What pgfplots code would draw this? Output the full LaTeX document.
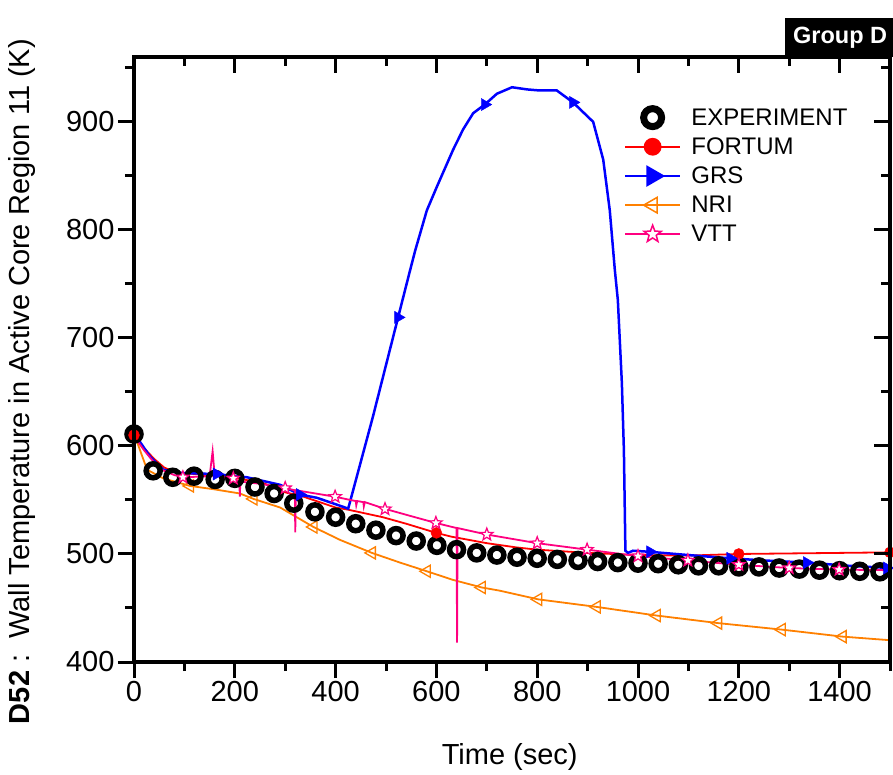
\documentclass[border=0pt]{standalone}
\usepackage{pgfplots}
\pgfplotsset{compat=1.18}
\usepackage{fontspec}
\setmainfont{Liberation Sans}
\definecolor{cfort}{RGB}{255,0,0}
\definecolor{cgrs}{RGB}{0,0,255}
\definecolor{cnri}{RGB}{255,128,0}
\definecolor{cvtt}{RGB}{255,0,128}
\pgfdeclareplotmark{ostar}{%
  \pgfpathmoveto{\pgfpointpolar{90}{\pgfplotmarksize}}%
  \pgfpathlineto{\pgfpointpolar{126}{0.42\pgfplotmarksize}}%
  \pgfpathlineto{\pgfpointpolar{162}{\pgfplotmarksize}}%
  \pgfpathlineto{\pgfpointpolar{198}{0.42\pgfplotmarksize}}%
  \pgfpathlineto{\pgfpointpolar{234}{\pgfplotmarksize}}%
  \pgfpathlineto{\pgfpointpolar{270}{0.42\pgfplotmarksize}}%
  \pgfpathlineto{\pgfpointpolar{306}{\pgfplotmarksize}}%
  \pgfpathlineto{\pgfpointpolar{342}{0.42\pgfplotmarksize}}%
  \pgfpathlineto{\pgfpointpolar{18}{\pgfplotmarksize}}%
  \pgfpathlineto{\pgfpointpolar{54}{0.42\pgfplotmarksize}}%
  \pgfpathclose
  \pgfusepathqfillstroke
}
\newcommand\tickfont{\fontsize{29}{34}\selectfont}
\pgfplotsset{
  frame/.style={
    at={(134pt,-662pt)}, anchor=south west,
    scale only axis, width=756pt, height=605pt,
    xmin=0, xmax=1500, ymin=400, ymax=960,
    xtick={0,200,...,1400}, ytick={400,500,...,900},
    minor xtick={100,300,...,1500}, minor ytick={450,550,...,950},
    major tick length=16pt, minor tick length=9pt,
    tick style={black, line width=3pt},
    axis line style={line width=3.5pt},
    ticklabel style={font=\tickfont},
    /pgf/number format/assume math mode=true,
    /pgf/number format/1000 sep={},
    scaled ticks=false,
  }
}
\pgfplotstableread{
t T
0 611
38 577
77 571
119 572
161 569
200 570
240 562
278 556
317 547
359 539
400 534
440 528
480 522
520 517
560 512
601 508
640 504
680 501
720 499
760 497
800 496
840 495
881 494
920 493
960 492
1000 491.5
1040 491
1080 490
1120 489
1160 489
1200 488
1240 488
1280 487
1320 486
1360 485
1400 484.5
1440 484
1480 483.5
}\expt
\pgfplotstableread{
t T
0 610
20 598
40 588
60 580
80 576
120 574
190 571
255 566
300 557
330 554
400 543
425 541
494 534
540 528
600 519.5
630 516
700 510
760 506
800 504
900 501
1000 499
1100 498.5
1200 500
1300 500.5
1400 501
1500 501.5
}\fortum
\pgfplotstableread{
t T
0 610
600 519.5
1200 500
1500 501.5
}\fortummk
\pgfplotstableread{
t T
0 609
10 605
32 590
58 578
91 575
160 574
224 571
290 564
329 555
363 552
425 542
474 627
524 719
548 763
558 781
581 818
601 840
633 874
653 893
673 908
696 916
720 926
750 932
780 930
805 929
839 929
871 918
911 900
931 865
944 818
954 763
960 735
968 658
972 596
974 534
975 503
980 501
990 503
1024 502
1100 499
1183 496
1250 494
1335 492
1420 489
1500 487
}\grs
\pgfplotstableread{
t T
164 574
329 555
524 719
696 916
871 918
1024 502
1183 496
1335 492
1494 487
}\grsmk
\pgfplotstableread{
t T
0 608
5 605
26 578
58 570
111 563
157 560
210 556
237 551
290 543
356 525
409 513
472 501
528 492
581 484
633 476
690 469
726 466
802 458
918 451
1037 443
1159 436
1285 430
1406 423.5
1505 420
}\nri
\pgfplotstableread{
t T
111 563
237 551
356 525
472 501
581 484
690 469
802 458
918 451
1037 443
1159 436
1285 430
1406 423.5
}\nrimk
\pgfplotstableread{
t T
0 609
20 596
50 579
80 573
100 571
150 572
156 595
160 573
200 569
209 567
210 553
211 567
250 565
300 561
319 559
320 520
321 559
360 556
399 553
429 550
440 549
441 545
443 549
455 548
456 544
458 548
500 541.5
550 535
599 528.7
640 524
641 418
642 524
700 518
800 510
899 504
1000 498
1099 494
1200 490
1300 487
1399 485.5
1500 485
}\vtt
\pgfplotstableread{
t T
97 571
197 570
300 561
399 553
498 541.5
599 528.7
700 518
800 510
899 504
1000 498
1099 494
1200 490
1300 487
1399 485.5
}\vttmk
\begin{document}
\begin{tikzpicture}
\useasboundingbox (0pt,0pt) rectangle (893pt,-774pt);
\begin{axis}[frame,
  tick pos=left, tick align=outside,
  xlabel={Time (sec)},
  ylabel={\textbf{D52}\ :\ \ Wall Temperature in Active Core Region 11 (K)},
  xlabel style={font=\tickfont, at={(axis description cs:0.497,-0.157)}, anchor=center},
  ylabel style={font=\tickfont, at={(axis description cs:-0.148,0.4636)}, anchor=center},
  legend style={at={(0.648,0.918)}, anchor=north west, draw=none, fill=none,
    inner sep=0pt, outer sep=0pt, font=\fontsize{24}{28}\selectfont,
    row sep=7pt, column sep=8pt},
  legend cell align=left,
  legend image code/.code={\draw[mark repeat=2,mark phase=2,#1] plot coordinates {(0pt,0pt) (27.5pt,0pt) (55pt,0pt)};},
]
\addlegendimage{only marks, mark=o, black, line width=7pt, mark size=9pt}
\addlegendentry{EXPERIMENT}
\addlegendimage{cfort, line width=1.8pt, mark=*, mark size=8pt}
\addlegendentry{FORTUM}
\addlegendimage{cgrs, line width=2.5pt, mark=triangle*, mark size=10pt, mark options={rotate=-90}}
\addlegendentry{GRS}
\addlegendimage{cnri, line width=1.8pt, mark=triangle, mark size=9pt, mark options={rotate=90, line width=1.5pt}}
\addlegendentry{NRI}
\addlegendimage{cvtt, line width=1.8pt, mark=ostar, mark size=9pt, mark options={fill=white, line width=1.5pt}}
\addlegendentry{VTT}
% NRI
\addplot[cnri, line width=1.8pt, forget plot] table {\nri};
\addplot[cnri, only marks, mark=triangle, mark size=7pt, mark options={rotate=90, line width=1.3pt, fill=white}, forget plot] table {\nrimk};
% Experiment
\addplot[black, only marks, mark=o, mark size=7pt, line width=5.5pt, forget plot] table {\expt};
% FORTUM
\addplot[cfort, line width=1.8pt, forget plot] table {\fortum};
\addplot[cfort, only marks, mark=*, mark size=5.5pt, forget plot] table {\fortummk};
% GRS
\addplot[cgrs, line width=2.5pt, forget plot] table {\grs};
\addplot[cgrs, only marks, mark=triangle*, mark size=7pt, mark options={rotate=-90}, forget plot] table {\grsmk};
% VTT
\addplot[cvtt, line width=1.8pt, forget plot] table {\vtt};
\addplot[cvtt, only marks, mark=ostar, mark size=6.5pt, mark options={fill=white, line width=1.2pt}, forget plot] table {\vttmk};
\end{axis}
\begin{axis}[frame, tick pos=right, tick align=inside, xticklabels={}, yticklabels={}]
\end{axis}
\fill[black] (785pt,-18pt) rectangle (920pt,-57pt);
\node[white, anchor=west, font=\fontsize{23.5}{28}\selectfont\bfseries, inner sep=0pt] at (793pt,-38pt) {Group D};
\end{tikzpicture}
\end{document}
